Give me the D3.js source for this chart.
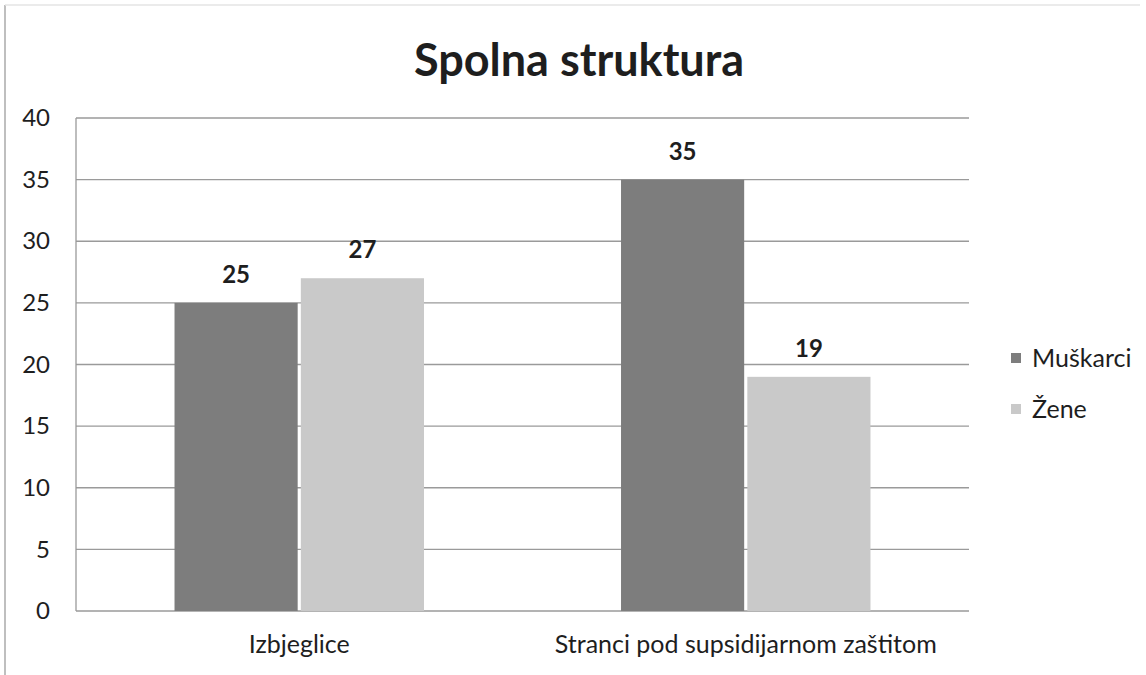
<!DOCTYPE html>
<html><head><meta charset="utf-8">
<script src="https://cdn.jsdelivr.net/npm/d3@7"></script>
<style>body{margin:0;background:#fff}svg{display:block}text{font-family:Lato,"Open Sans",sans-serif;fill:#1e1e1e}</style>
</head><body><svg id="c" width="1146" height="675"></svg>
<script>
const categories = ["Izbjeglice", "Stranci pod supsidijarnom zaštitom"];
const seriesNames = ["Muškarci", "Žene"];
const muskarci = [25, 35];
const zene = [27, 19];
const yTicks = [0, 5, 10, 15, 20, 25, 30, 35, 40];
const title = "Spolna struktura";
const colors = ["#7d7d7d", "#c9c9c9"];

(function(){
const svg = d3.select("#c");
const pLeft = 76, pRight = 969, pTop = 118, pBottom = 611;
const x0 = d3.scaleBand().domain(categories).range([pLeft, pRight]).paddingInner(0).paddingOuter(0);
const x1 = d3.scaleBand().domain(seriesNames).range([0, x0.bandwidth()]).paddingOuter(0.78).paddingInner(0.025);
const y = d3.scaleLinear().domain([0, 40]).range([pBottom, pTop]);

// frame
svg.append("line").attr("x1",5).attr("x2",5).attr("y1",5).attr("y2",675).attr("stroke","#aaa").attr("stroke-width",1.5);
svg.append("line").attr("x1",5).attr("x2",1140).attr("y1",5).attr("y2",5).attr("stroke","#e4e4e4").attr("stroke-width",1.5);

// grid
svg.append("g").selectAll("line").data(yTicks).join("line")
  .attr("x1",pLeft).attr("x2",pRight).attr("y1",d=>y(d)).attr("y2",d=>y(d))
  .attr("stroke","#9a9a9a").attr("stroke-width",1.3);
svg.append("line").attr("x1",pLeft).attr("x2",pLeft).attr("y1",pTop).attr("y2",pBottom).attr("stroke","#9a9a9a").attr("stroke-width",1.3);

// y axis labels
const yAxis = d3.axisLeft(y).tickValues(yTicks).tickSize(0).tickPadding(26);
const ga = svg.append("g").attr("transform",`translate(${pLeft},0)`).call(yAxis);
ga.select(".domain").remove();
ga.selectAll("text").style("font-size","24px").style("font-family","Lato, sans-serif").attr("fill","#1e1e1e");

// x labels
const xAxis = d3.axisBottom(x0).tickSize(0).tickPadding(24);
const gx = svg.append("g").attr("transform",`translate(0,${pBottom})`).call(xAxis);
gx.select(".domain").remove();
gx.selectAll("text").style("font-size","25px").style("font-family","Lato, sans-serif").attr("fill","#1e1e1e");

const data = categories.map((c,i)=>({cat:c, vals:[muskarci[i], zene[i]]}));
const groups = svg.append("g").selectAll("g").data(data).join("g").attr("transform",d=>`translate(${x0(d.cat)},0)`);
groups.selectAll("rect").data(d=>d.vals.map((v,j)=>({s:seriesNames[j],v,j}))).join("rect")
  .attr("x",d=>x1(d.s)).attr("width",x1.bandwidth())
  .attr("y",d=>y(d.v)).attr("height",d=>y(0)-y(d.v))
  .attr("fill",d=>colors[d.j]);
groups.selectAll("text.lbl").data(d=>d.vals.map((v,j)=>({s:seriesNames[j],v,j}))).join("text").attr("class","lbl")
  .attr("x",d=>x1(d.s)+x1.bandwidth()/2).attr("y",d=>y(d.v)-20)
  .attr("text-anchor","middle").style("font-size","24px").style("font-weight","bold").text(d=>d.v);

// title
svg.append("text").attr("x",579).attr("y",76).attr("text-anchor","middle")
  .style("font-size","45px").style("font-weight","bold").text(title);

// legend
const lg = svg.append("g").selectAll("g").data(seriesNames).join("g")
  .attr("transform",(d,i)=>`translate(1011,${358+i*51})`);
lg.append("rect").attr("x",0).attr("y",-5).attr("width",10).attr("height",10).attr("fill",(d,i)=>colors[i]);
lg.append("text").attr("x",21).attr("y",0).attr("dy","0.35em").style("font-size","25px").text(d=>d);
})();
</script></body></html>
